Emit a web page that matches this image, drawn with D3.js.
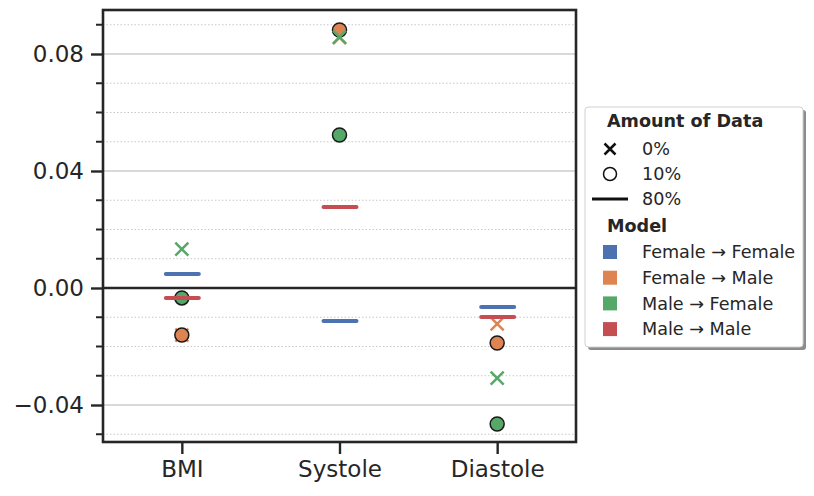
<!DOCTYPE html>
<html lang="en">
<head>
<meta charset="UTF-8">
<title>Transfer error</title>
<style>
  body { margin: 0; background: #fff; }
  svg { font-family: "DejaVu Sans", sans-serif; }
</style>
</head>
<body>
<div class="canvas"></div>
<script src="https://cdnjs.cloudflare.com/ajax/libs/d3/7.8.5/d3.min.js"></script>
<script>
// data
const categories = ['BMI', 'Systole', 'Diastole'];
const models = ['Female \u2192 Female', 'Female \u2192 Male', 'Male \u2192 Female', 'Male \u2192 Male'];
const amounts = ['0%', '10%', '80%'];
const colors = ['#4c72b0', '#dd8452', '#55a868', '#c44e52'];
const yTicks = [-0.04, 0.00, 0.04, 0.08];

// one array per model / amount, values in category order
const femaleFemale80 = [0.0048, -0.0113, -0.0065];
const femaleMale0 = [-0.0161, 0.0856, -0.0123];
const femaleMale10 = [-0.0161, 0.0882, -0.0188];
const maleFemale0 = [0.0133, 0.0858, -0.0308];
const maleFemale10 = [-0.0034, 0.0523, -0.0465];
const maleMale80 = [-0.0034, 0.0277, -0.0099];

// draw order = model order (later marks sit on top)
const series = [
  {model: 0, amount: '80%', values: femaleFemale80},
  {model: 1, amount: '0%', values: femaleMale0},
  {model: 1, amount: '10%', values: femaleMale10},
  {model: 2, amount: '0%', values: maleFemale0},
  {model: 2, amount: '10%', values: maleFemale10},
  {model: 3, amount: '80%', values: maleMale80}
];

const width = 814, height = 496;
const margin = {top: 10, right: 238, bottom: 54, left: 103};
const graphWidth = width - margin.left - margin.right;
const graphHeight = height - margin.top - margin.bottom;
const ink = '#262626';
const tickFont = '23px';
const legendFont = '17.6px';

const svg = d3.select('.canvas')
  .append('svg')
    .attr('width', width)
    .attr('height', height);

const graph = svg.append('g')
  .attr('transform', `translate(${margin.left}, ${margin.top})`);

const x = d3.scalePoint()
  .domain(categories)
  .range([0, graphWidth])
  .padding(0.5);

const y = d3.scaleLinear()
  .domain([-0.05265, 0.09504])
  .range([graphHeight, 0]);

const minorTicks = d3.range(-5, 10).map(d => d / 100)
  .filter(t => !yTicks.some(m => Math.abs(m - t) < 1e-9));

// grid
graph.append('g').selectAll('line')
  .data(minorTicks)
  .enter().append('line')
    .attr('x1', 0).attr('x2', graphWidth)
    .attr('y1', d => y(d)).attr('y2', d => y(d))
    .attr('stroke', '#c8c8c8')
    .attr('stroke-width', 1)
    .attr('stroke-dasharray', '1.5,2');

graph.append('g').selectAll('line')
  .data(yTicks)
  .enter().append('line')
    .attr('x1', 0).attr('x2', graphWidth)
    .attr('y1', d => y(d)).attr('y2', d => y(d))
    .attr('stroke', '#cccccc')
    .attr('stroke-width', 1.6);

// zero line
graph.append('line')
  .attr('x1', 0).attr('x2', graphWidth)
  .attr('y1', y(0)).attr('y2', y(0))
  .attr('stroke', ink)
  .attr('stroke-width', 2.6);

// marks
const marks = graph.append('g');
const xSize = 6.5;
series.forEach(s => {
  const col = colors[s.model];
  const g = marks.append('g');
  if (s.amount === '80%') {
    g.selectAll('line')
      .data(s.values)
      .enter().append('line')
        .attr('x1', (d, i) => x(categories[i]) - 16)
        .attr('x2', (d, i) => x(categories[i]) + 17)
        .attr('y1', d => y(d)).attr('y2', d => y(d))
        .attr('stroke', col)
        .attr('stroke-width', 4)
        .attr('stroke-linecap', 'round');
  } else if (s.amount === '10%') {
    g.selectAll('circle')
      .data(s.values)
      .enter().append('circle')
        .attr('cx', (d, i) => x(categories[i]))
        .attr('cy', d => y(d))
        .attr('r', 7)
        .attr('fill', col)
        .attr('stroke', '#1a1a1a')
        .attr('stroke-width', 1.5);
  } else {
    g.selectAll('path')
      .data(s.values)
      .enter().append('path')
        .attr('d', (d, i) => {
          const cx = x(categories[i]), cy = y(d);
          return `M${cx - xSize},${cy - xSize}L${cx + xSize},${cy + xSize}M${cx - xSize},${cy + xSize}L${cx + xSize},${cy - xSize}`;
        })
        .attr('stroke', col)
        .attr('stroke-width', 2.5)
        .attr('fill', 'none');
  }
});

// axes
const yAxis = d3.axisLeft(y)
  .tickValues(yTicks)
  .tickSize(12)
  .tickPadding(7)
  .tickFormat(d => d3.format('.2f')(d).replace('-', '\u2212'));

const yAxisGroup = graph.append('g').call(yAxis);
yAxisGroup.select('.domain').remove();
yAxisGroup.selectAll('line').attr('stroke', ink).attr('stroke-width', 2.4);
yAxisGroup.selectAll('text').attr('fill', ink).style('font-size', tickFont)
  .attr('font-family', '"DejaVu Sans", sans-serif');

graph.append('g').selectAll('line')
  .data(minorTicks)
  .enter().append('line')
    .attr('x1', -7).attr('x2', 0)
    .attr('y1', d => y(d)).attr('y2', d => y(d))
    .attr('stroke', ink)
    .attr('stroke-width', 2);

const xAxis = d3.axisBottom(x).tickSize(12).tickPadding(7);
const xAxisGroup = graph.append('g')
  .attr('transform', `translate(0, ${graphHeight})`)
  .call(xAxis);
xAxisGroup.select('.domain').remove();
xAxisGroup.selectAll('line').attr('stroke', ink).attr('stroke-width', 2.4);
xAxisGroup.selectAll('text').attr('fill', ink).style('font-size', tickFont)
  .attr('font-family', '"DejaVu Sans", sans-serif');

// frame
graph.append('rect')
  .attr('width', graphWidth)
  .attr('height', graphHeight)
  .attr('fill', 'none')
  .attr('stroke', ink)
  .attr('stroke-width', 2.6);

// legend
const legend = svg.append('g').attr('transform', 'translate(585, 107)');
const lw = 218, lh = 240;
legend.append('rect')
  .attr('x', 3).attr('y', 3)
  .attr('width', lw).attr('height', lh)
  .attr('rx', 3)
  .attr('fill', '#8c8c8c');
legend.append('rect')
  .attr('width', lw).attr('height', lh)
  .attr('rx', 3)
  .attr('fill', '#fff')
  .attr('stroke', '#d0d0d0')
  .attr('stroke-width', 1);

const mx = 25, tx = 57;
legend.append('text')
  .attr('x', 22).attr('y', 14)
  .attr('dy', '0.35em')
  .attr('font-weight', 'bold')
  .style('font-size', legendFont)
  .attr('fill', ink)
  .text('Amount of Data');

const amountRows = legend.selectAll('g.amount')
  .data(amounts)
  .enter().append('g')
    .attr('transform', (d, i) => `translate(0, ${42 + i * 25})`);

amountRows.append('text')
  .attr('x', tx).attr('dy', '0.35em')
  .style('font-size', legendFont)
  .attr('fill', ink)
  .text(d => d);

amountRows.each(function(d) {
  const g = d3.select(this);
  if (d === '0%') {
    g.append('path')
      .attr('d', `M${mx - 5.5},-5.5L${mx + 5.5},5.5M${mx - 5.5},5.5L${mx + 5.5},-5.5`)
      .attr('stroke', '#111').attr('stroke-width', 2.5);
  } else if (d === '10%') {
    g.append('circle').attr('cx', mx).attr('r', 6.5)
      .attr('fill', '#fff').attr('stroke', '#111').attr('stroke-width', 1.5);
  } else {
    g.append('line').attr('x1', 7).attr('x2', 43)
      .attr('stroke', '#111').attr('stroke-width', 3);
  }
});

legend.append('text')
  .attr('x', 22).attr('y', 119)
  .attr('dy', '0.35em')
  .attr('font-weight', 'bold')
  .style('font-size', legendFont)
  .attr('fill', ink)
  .text('Model');

const modelRows = legend.selectAll('g.model')
  .data(models)
  .enter().append('g')
    .attr('transform', (d, i) => `translate(0, ${145 + i * 25.7})`);

modelRows.append('rect')
  .attr('x', mx - 7).attr('y', -7)
  .attr('width', 14).attr('height', 14)
  .attr('fill', (d, i) => colors[i]);

modelRows.append('text')
  .attr('x', tx).attr('dy', '0.35em')
  .style('font-size', legendFont)
  .attr('fill', ink)
  .text(d => d);
</script>
</body>
</html>
